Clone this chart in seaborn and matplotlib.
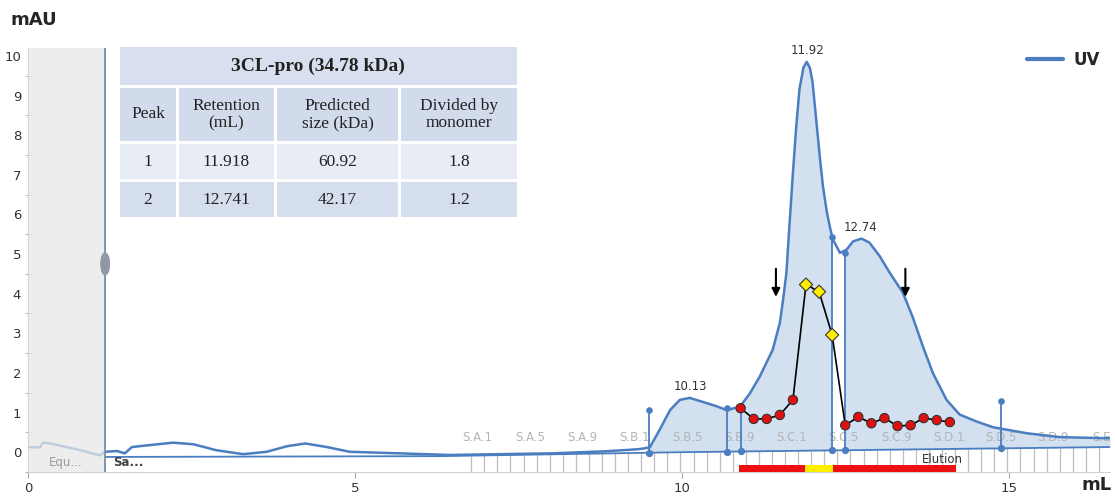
import numpy as np
import pandas as pd
import matplotlib
matplotlib.use("Agg")
import matplotlib.pyplot as plt
import seaborn as sns
from matplotlib.patches import Rectangle, Ellipse

# UV trace (mL, mAU)
uv_ml = [0.0, 0.18, 0.23, 0.34, 0.59, 0.85, 1.1,
         1.18, 1.36, 1.48, 1.59, 1.87, 2.22, 2.53, 2.88, 3.29, 3.65,
         3.96, 4.24, 4.57, 4.92, 5.69, 6.45, 7.2, 8.0, 8.8, 9.2,
         9.36, 9.51, 9.66, 9.82, 9.97, 10.12, 10.32, 10.53, 10.69, 10.89,
         11.04, 11.19, 11.39, 11.5, 11.55, 11.6, 11.65, 11.7, 11.75, 11.8, 11.86,
         11.91, 11.96, 12.0, 12.05, 12.11, 12.16, 12.22, 12.27, 12.31,
         12.42, 12.52, 12.62, 12.75, 12.87, 13.03, 13.18, 13.38,
         13.53, 13.69, 13.84, 14.05, 14.25, 14.5, 14.76, 15.27, 15.78,
         16.55]
uv_mau = [0.13, 0.12, 0.24, 0.22, 0.13, 0.03, -0.08,
          0.01, 0.03, -0.03, 0.13, 0.18, 0.24, 0.2, 0.05, -0.05, 0.01,
          0.15, 0.22, 0.13, 0.01, -0.03, -0.07, -0.05, -0.03, 0.02, 0.06,
          0.08, 0.12, 0.56, 1.06, 1.32, 1.37, 1.27, 1.16, 1.06, 1.15,
          1.48, 1.9, 2.58, 3.26, 3.85, 4.52, 5.8, 7.05, 8.2, 9.16, 9.7,
          9.85, 9.7, 9.34, 8.5, 7.47, 6.7, 6.05, 5.65, 5.37,
          5.03, 5.11, 5.32, 5.39, 5.29, 4.94, 4.53, 4.03,
          3.42, 2.66, 2.0, 1.32, 0.95, 0.78, 0.63, 0.48, 0.38,
          0.35]

baseline_ml = [1.18, 6.3, 10.0, 16.55]
baseline_mau = [-0.12, -0.1, 0.0, 0.13]

# integrated peak windows
peak_start = [9.5, 12.5]
peak_end = [12.3, 16.55]

# peak boundary markers
marker_ml = [9.5, 10.69, 10.9, 12.3, 12.5, 14.88]
marker_top = [1.06, 1.12, 1.13, 5.44, 5.03, 1.3]

# peak apex labels
apex_ml = [10.13, 11.92, 12.74]
apex_mau = [1.37, 9.85, 5.39]
apex_text = ["10.13", "11.92", "12.74"]

# fraction series (black line with red / yellow markers)
mw_ml = [10.9, 11.1, 11.3, 11.5, 11.7, 11.9, 12.1, 12.3, 12.5, 12.7, 12.9,
         13.1, 13.3, 13.5, 13.7, 13.9, 14.1]
mw_val = [1.11, 0.84, 0.84, 0.94, 1.32, 4.23, 4.05, 2.96, 0.68, 0.89, 0.73,
          0.86, 0.66, 0.68, 0.86, 0.81, 0.76]
mw_kind = ["other"] * 5 + ["peak"] * 3 + ["other"] * 9

# arrows
arrow_ml = [11.44, 13.42]

# fractions
frac_first = 6.78
frac_width = 0.2
frac_count = 49
frac_label_ml = [6.88, 7.68, 8.48, 9.28, 10.08, 10.88, 11.68, 12.48, 13.28,
                 14.08, 14.88, 15.68, 16.42]
frac_labels = ["S.A.1", "S.A.5", "S.A.9", "S.B.1", "S.B.5", "S.B.9", "S.C.1",
               "S.C.5", "S.C.9", "S.D.1", "S.D.5", "S.D.9", "S.E"]

# pooled fractions bar
pool_start = [10.87, 11.88, 12.32]
pool_end = [11.88, 12.32, 14.2]
pool_color = ["#ee1111", "#ffee00", "#ee1111"]

# table
table_title = "3CL-pro (34.78 kDa)"
table_header = ["Peak", "Retention\n(mL)", "Predicted\nsize (kDa)", "Divided by\nmonomer"]
table_rows = [["1", "11.918", "60.92", "1.8"],
              ["2", "12.741", "42.17", "1.2"]]

blue = "#4a7ec0"

sns.set_style("white")
plt.rcParams["font.family"] = ["DejaVu Sans"]

W, H = 1115, 496
fig = plt.figure(figsize=(W / 100, H / 100), dpi=100)
ax = fig.add_axes([28 / W, 24 / H, 1082 / W, 424 / H])
ax.set_xlim(0, 16.55)
ax.set_ylim(-0.5, 10.2)

uv = pd.DataFrame({"mL": uv_ml, "mAU": uv_mau})

for s, e in zip(peak_start, peak_end):
    m = (uv["mL"] > s) & (uv["mL"] < e)
    xs = np.r_[s, uv["mL"][m], e]
    ys = np.interp(xs, uv_ml, uv_mau)
    bs = np.interp(xs, baseline_ml, baseline_mau)
    ax.fill_between(xs, bs, ys, color="#d3e0f0", lw=0, zorder=1)

# fraction ticks and labels
frac_edges = frac_first + frac_width * np.arange(frac_count + 1)
ax.vlines(frac_edges, -0.5, np.interp(frac_edges, baseline_ml, baseline_mau),
          color="#bcbcbc", lw=0.9, zorder=1)
for x, t in zip(frac_label_ml, frac_labels):
    ax.text(x, 0.38, t, color="#b4b4b4", fontsize=8.5, ha="center", va="center",
            zorder=2)

ax.plot(baseline_ml, baseline_mau, color=blue, lw=1.3, zorder=2)
sns.lineplot(data=uv, x="mL", y="mAU", color=blue, lw=1.8, ax=ax, zorder=3,
             label="UV", sort=False)

ax.vlines(marker_ml, np.interp(marker_ml, baseline_ml, baseline_mau), marker_top,
          color=blue, lw=1.3, zorder=3)
ax.scatter(marker_ml, marker_top, s=14, color=blue, zorder=4)
ax.scatter(marker_ml, np.interp(marker_ml, baseline_ml, baseline_mau), s=18,
           color=blue, zorder=4)

for x, y, t in zip(apex_ml, apex_mau, apex_text):
    ax.text(x, y + 0.12, t, fontsize=8.5, color="#333333", ha="center",
            va="bottom", clip_on=False)

mw = pd.DataFrame({"mL": mw_ml, "val": mw_val, "kind": mw_kind})
ax.plot(mw_ml, mw_val, color="black", lw=1.2, zorder=5)
sns.scatterplot(data=mw, x="mL", y="val", hue="kind", style="kind",
                palette={"other": "#e01010", "peak": "#ffee00"},
                markers={"other": "o", "peak": "D"}, s=45, edgecolor="#333333",
                linewidth=0.8, ax=ax, zorder=6, legend=False)

for x in arrow_ml:
    ax.annotate("", xy=(x, 3.85), xytext=(x, 4.7),
                arrowprops=dict(arrowstyle="-|>", color="black", lw=1.5,
                                mutation_scale=12), zorder=7)

for s, e, c in zip(pool_start, pool_end, pool_color):
    ax.add_patch(Rectangle((s, -0.49), e - s, 0.17, color=c, lw=0, zorder=4,
                           clip_on=False))
ax.text(13.98, -0.18, "Elution", fontsize=8.5, color="#333333", ha="center",
        va="center", zorder=4)

# equilibration region
ax.add_patch(Rectangle((0, -0.5), 1.18, 10.7, color="#e8e8e8", alpha=0.75,
                       lw=0, zorder=4))
ax.axvline(1.18, color="#8494a8", lw=1.4, zorder=5)
ax.add_patch(Ellipse((1.18, 4.75), 0.13, 0.55, color="#8f98a4", zorder=6))
ax.text(0.57, -0.27, "Equ...", fontsize=8.5, color="#9a9a9a", ha="center",
        va="center", zorder=6)
ax.text(1.3, -0.25, "Sa...", fontsize=8.5, color="#404040", weight="bold",
        ha="left", va="center", zorder=6)

# axes styling
for side in ["top", "right"]:
    ax.spines[side].set_visible(False)
ax.spines["left"].set_color("#a8a8a8")
ax.spines["bottom"].set_color("#d0d0d0")
ax.set_xticks([0, 5, 10, 15])
ax.set_yticks(range(0, 11))
ax.set_yticks(np.arange(-0.5, 10.1, 0.5), minor=True)
ax.tick_params(axis="y", which="major", direction="inout", length=6,
               color="#a8a8a8", labelsize=9.5, labelcolor="#333333", pad=2)
ax.tick_params(axis="y", which="minor", direction="inout", length=4,
               color="#a8a8a8", left=True)
ax.tick_params(axis="x", which="major", direction="out", length=4,
               color="#a8a8a8", labelsize=9.5, labelcolor="#333333", pad=3,
               bottom=True)
ax.set_xlabel("")
ax.set_ylabel("")

fig.text(10 / W, 1 - 20 / H, "mAU", fontsize=13, weight="bold", ha="left",
         va="center")
fig.text(1112 / W, 1 - 485 / H, "mL", fontsize=13, weight="bold", ha="right",
         va="center")

ax.legend(loc="center right", bbox_to_anchor=(1108 / W, 1 - 60 / H),
          bbox_transform=fig.transFigure, frameon=False, handlelength=2.2,
          prop={"weight": "bold", "size": 12}, borderpad=0, handletextpad=0.6)
ax.get_legend().get_lines()[0].set_linewidth(3)


# table drawn in pixel coordinates
def fig_rect(x0, y0, x1, y1, color):
    fig.add_artist(Rectangle((x0 / W, 1 - y1 / H), (x1 - x0) / W, (y1 - y0) / H,
                             transform=fig.transFigure, color=color, lw=0,
                             zorder=10))


def fig_text(x, y, s, **kw):
    fig.text(x / W, 1 - y / H, s, ha="center", va="center",
             family="Liberation Serif", color="#222222", zorder=11,
             linespacing=1.15, **kw)


cols = [(120, 176), (179, 274), (277, 398), (401, 517)]
rows = [(88, 141), (144, 179), (182, 217)]
row_colors = ["#d2dbeb", "#e8ecf5", "#d5deed"]

fig_rect(120, 47, 517, 85, "#d8e0ef")
fig_text(318, 66, table_title, fontsize=14, weight="bold")
for (y0, y1), rc, vals in zip(rows, row_colors, [table_header] + table_rows):
    for (x0, x1), v in zip(cols, vals):
        fig_rect(x0, y0, x1, y1, rc)
        fig_text((x0 + x1) / 2, (y0 + y1) / 2, v, fontsize=12.5)

fig.savefig("out.png", dpi=100)
